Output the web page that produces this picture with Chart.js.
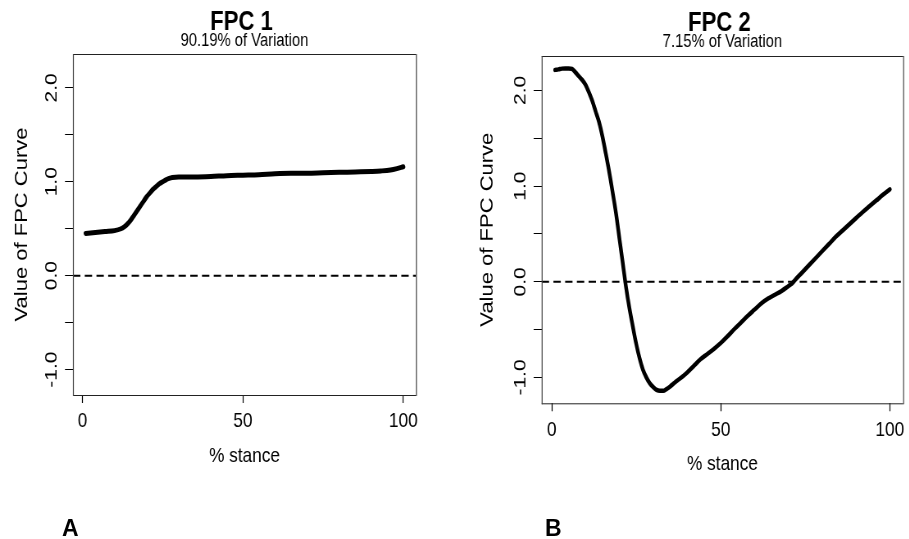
<!DOCTYPE html>
<html><head><meta charset="utf-8">
<script src="https://cdn.jsdelivr.net/npm/chart.js@4.4.0/dist/chart.umd.min.js"></script>
<style>
html,body{margin:0;padding:0;background:#fff;}
#wrap{position:relative;width:909px;height:539px;overflow:hidden;background:#fff;}
canvas{position:absolute;top:0;transform-origin:0 0;transform:scaleX(0.82);}
#c1{left:0;} #c2{left:450px;}
.lab{position:absolute;font:bold 23px 'Liberation Sans',Arial,sans-serif;line-height:1;color:#000;}
</style></head><body>
<div id="wrap">
<canvas id="c1" width="549" height="539"></canvas>
<canvas id="c2" width="560" height="539"></canvas>
<div class="lab" style="left:62px;top:517px">A</div>
<div class="lab" style="left:545px;top:517px">B</div>
</div>
<script>
// ---- data ----
const fpc1X = [1,4,7,10,12,13,14,15,16,17,18,19,20,21,22,23,24,25,26,27,28,30,35,40,45,50,55,60,65,70,75,80,85,90,93,96,98,100];
const fpc1Y = [0.45,0.46,0.47,0.48,0.50,0.52,0.55,0.59,0.64,0.69,0.74,0.79,0.84,0.88,0.92,0.95,0.98,1.00,1.02,1.035,1.045,1.05,1.05,1.055,1.065,1.07,1.075,1.085,1.09,1.09,1.095,1.10,1.105,1.11,1.115,1.125,1.14,1.16];
const fpc2X = [1,2,3,4,5,6,7,8,9,10,11,12,13,14,15,16,17,18,19,20,21,22,23,24,25,26,27,28,29,30,31,32,33,34,35,36,37,38,40,42,44,46,48,50,52,54,56,58,60,62,64,66,68,70,71,72,74,76,78,80,82,84,86,88,90,92,94,96,98,100];
const fpc2Y = [2.215,2.22,2.228,2.23,2.23,2.225,2.19,2.15,2.11,2.06,1.98,1.89,1.78,1.67,1.52,1.34,1.15,0.94,0.72,0.46,0.20,-0.06,-0.28,-0.47,-0.65,-0.80,-0.92,-1.00,-1.06,-1.10,-1.13,-1.14,-1.14,-1.12,-1.095,-1.065,-1.035,-1.01,-0.95,-0.88,-0.81,-0.755,-0.70,-0.64,-0.57,-0.495,-0.425,-0.355,-0.29,-0.225,-0.175,-0.135,-0.095,-0.045,-0.02,0.02,0.095,0.17,0.245,0.32,0.395,0.47,0.535,0.60,0.665,0.73,0.79,0.85,0.91,0.967];
const titles = ['FPC 1', 'FPC 2'];
const subtitles = ['90.19% of Variation', '7.15% of Variation'];
const xTicks = [0, 50, 100];
const xTickLabels = ['0', '50', '100'];
const yTicks = [-1, -0.5, 0, 0.5, 1, 1.5, 2];
const yTickLabels = ['-1.0', '', '0.0', '', '1.0', '', '2.0'];
const xTitle = '% stance';
const yTitle = 'Value of FPC Curve';
const xRange = [-2.96, 103.96];
const yRange = [-1.27, 2.36];
const refLine = 0;

const FONT = "'Liberation Sans',Arial,sans-serif";

const framePlugin = {
  id: 'frame',
  afterDraw(chart, args, opts) {
    const {ctx, chartArea: a} = chart;
    ctx.save();
    ctx.strokeStyle = '#222';
    ctx.lineWidth = 1;
    ctx.beginPath();
    ctx.moveTo(a.left, a.top + 0.5); ctx.lineTo(a.right, a.top + 0.5);
    ctx.moveTo(a.left, a.bottom + 0.5); ctx.lineTo(a.right, a.bottom + 0.5);
    ctx.stroke();
    ctx.strokeStyle = '#444';
    ctx.lineWidth = 1.2;
    ctx.beginPath();
    ctx.moveTo(a.left + 0.5, a.top); ctx.lineTo(a.left + 0.5, a.bottom + 1);
    ctx.moveTo(a.right + 0.5, a.top); ctx.lineTo(a.right + 0.5, a.bottom + 1);
    ctx.stroke();
    const cx = (a.left + a.right) / 2;
    ctx.fillStyle = '#000';
    ctx.textAlign = 'center';
    ctx.textBaseline = 'alphabetic';
    ctx.font = 'bold 27px ' + FONT;
    ctx.fillText(opts.title, cx - 3.7, opts.ty);
    ctx.font = '18px ' + FONT;
    ctx.fillText(opts.subtitle, cx, opts.sy);
    ctx.restore();
  }
};

function makeChart(id, xs, ys, c) {
  return new Chart(document.getElementById(id), {
    type: 'line',
    data: {
      datasets: [
        { data: xs.map((x, i) => ({x: x, y: ys[i]})), borderColor: '#000', borderWidth: c.lw,
          pointRadius: 0, fill: false, cubicInterpolationMode: 'monotone', borderCapStyle: 'round', borderJoinStyle: 'round', order: 0 },
        { data: [{x: xRange[0], y: refLine}, {x: xRange[1], y: refLine}], borderColor: '#000', borderWidth: 2,
          borderDash: [9, 5.3], pointRadius: 0, fill: false, order: 1 }
      ]
    },
    options: {
      responsive: false, animation: false, devicePixelRatio: 1,
      layout: { padding: c.padding },
      plugins: { legend: { display: false }, tooltip: { enabled: false },
        frame: { title: c.title, subtitle: c.subtitle, ty: c.ty, sy: c.sy } },
      scales: {
        x: {
          type: 'linear', min: xRange[0], max: xRange[1],
          afterBuildTicks: s => { s.ticks = xTicks.map(v => ({value: v})); },
          afterFit: s => { s.height = c.xh; },
          grid: { drawOnChartArea: false, drawTicks: true, tickLength: 8, tickColor: '#000', tickWidth: 1.2 },
          border: { display: false },
          ticks: { autoSkip: false, maxRotation: 0, padding: 6, color: '#000',
            font: { family: FONT, size: 21 },
            callback: (v, i) => xTickLabels[i] },
          title: { display: true, text: xTitle, color: '#000', font: { family: FONT, size: 21 },
            padding: { top: 0, bottom: 6.4 } }
        },
        y: {
          type: 'linear', min: yRange[0], max: yRange[1],
          afterBuildTicks: s => { s.ticks = yTicks.map(v => ({value: v})); },
          afterFit: s => { s.width = 89; },
          grid: { drawOnChartArea: false, drawTicks: true, tickLength: 9.75, tickColor: '#000', tickWidth: 1 },
          border: { display: false },
          ticks: { autoSkip: false, minRotation: 90, maxRotation: 90, crossAlign: 'center', padding: -1.85,
            color: '#000', font: { family: FONT, size: 21 },
            callback: (v, i) => yTickLabels[i] },
          title: { display: true, text: yTitle, color: '#000', font: { family: FONT, size: 22 },
            padding: { top: c.ytp, bottom: 0 } }
        }
      }
    },
    plugins: [framePlugin]
  });
}

makeChart('c1', fpc1X, fpc1Y, {
  lw: 5, padding: { left: 0, right: 41.7, top: 54, bottom: 64 }, xh: 80, ytp: 13.3,
  title: titles[0], subtitle: subtitles[0], ty: 29.5, sy: 46
});
makeChart('c2', fpc2X, fpc2Y, {
  lw: 4.5, padding: { left: 22.8, right: 3, top: 56, bottom: 55.7 }, xh: 80, ytp: 9.7,
  title: titles[1], subtitle: subtitles[1], ty: 30.5, sy: 46.7
});
</script>
</body></html>
